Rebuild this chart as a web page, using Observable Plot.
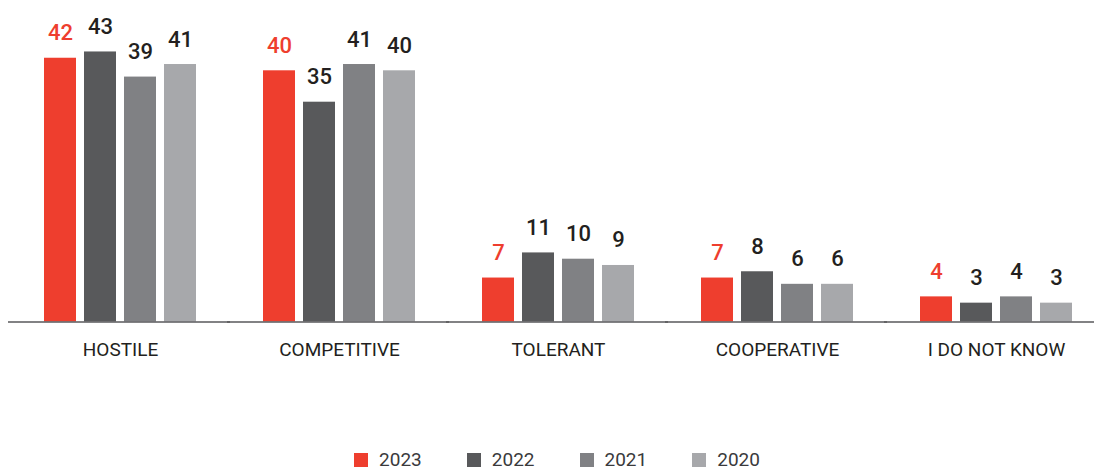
<!DOCTYPE html>
<html>
<head>
<meta charset="utf-8">
<script src="https://cdn.jsdelivr.net/npm/d3@7"></script>
<script src="https://cdn.jsdelivr.net/npm/@observablehq/plot@0.6"></script>
<style>
  body { margin: 0; background: #fff; font-family: Roboto, sans-serif; }
  #legend .lg-swatches-wrap { justify-content: center !important; padding-left: 20px; margin: 0 !important; font-family: Roboto, sans-serif !important; font-size: 19px !important; color: #3a3a3c; min-height: 28px !important; line-height: 22px; }
  #legend .lg-swatch { margin-right: 45px !important; }
  #legend .lg-swatch:last-child { margin-right: 0 !important; }
  #legend .lg-swatch > svg { margin-right: 11px !important; }
</style>
</head>
<body>
<div id="chart"></div>
<div id="legend"></div>
<script>
const categories = ["HOSTILE", "COMPETITIVE", "TOLERANT", "COOPERATIVE", "I DO NOT KNOW"];
const years = ["2023", "2022", "2021", "2020"];
const v2023 = [42, 40, 7, 7, 4];
const v2022 = [43, 35, 11, 8, 3];
const v2021 = [39, 41, 10, 6, 4];
const v2020 = [41, 40, 9, 6, 3];
const yearColors = ["#ee3e2e", "#58595b", "#808184", "#a7a8ab"];

const series = [v2023, v2022, v2021, v2020];
const data = categories.flatMap((c, i) => years.map((y, j) => ({category: c, year: y, value: series[j][i]})));

const chart = Plot.plot({
  width: 1094,
  height: 446,
  marginLeft: 40,
  marginRight: 18,
  marginTop: 7.5,
  marginBottom: 124.5,
  style: {fontFamily: "Roboto, sans-serif", background: "#fff", overflow: "visible"},
  fx: {domain: categories, paddingInner: 59 / 219, paddingOuter: 0, label: null, axis: null},
  x: {domain: years, paddingInner: 0.2, paddingOuter: 0.1, axis: null},
  y: {domain: [0, 50], axis: null},
  color: {domain: years, range: yearColors},
  marks: [
    Plot.barY(data, {fx: "category", x: "year", y: "value", fill: "year"}),
    Plot.ruleY([0], {stroke: "#58595b", strokeWidth: 1.5, insetLeft: -32, insetRight: -30}),
    Plot.text(data.filter(d => d.year === "2023"), {fx: "category", x: "year", y: "value", text: d => String(d.value), fill: "#ee3e2e", lineAnchor: "bottom", dy: -18, fontSize: 22, fontWeight: 500}),
    Plot.text(data.filter(d => d.year !== "2023"), {fx: "category", x: "year", y: "value", text: d => String(d.value), fill: "#231f20", lineAnchor: "bottom", dy: -18, fontSize: 22, fontWeight: 500}),
    Plot.axisFx({anchor: "bottom", tickSize: 0, tickPadding: 20, fontSize: 19, fill: "#231f20", label: null})
  ]
});
document.getElementById("chart").appendChild(chart);

const legend = Plot.legend({
  color: {domain: years, range: yearColors},
  swatchSize: 14,
  className: "lg"
});
document.getElementById("legend").appendChild(legend);
</script>
</body>
</html>
